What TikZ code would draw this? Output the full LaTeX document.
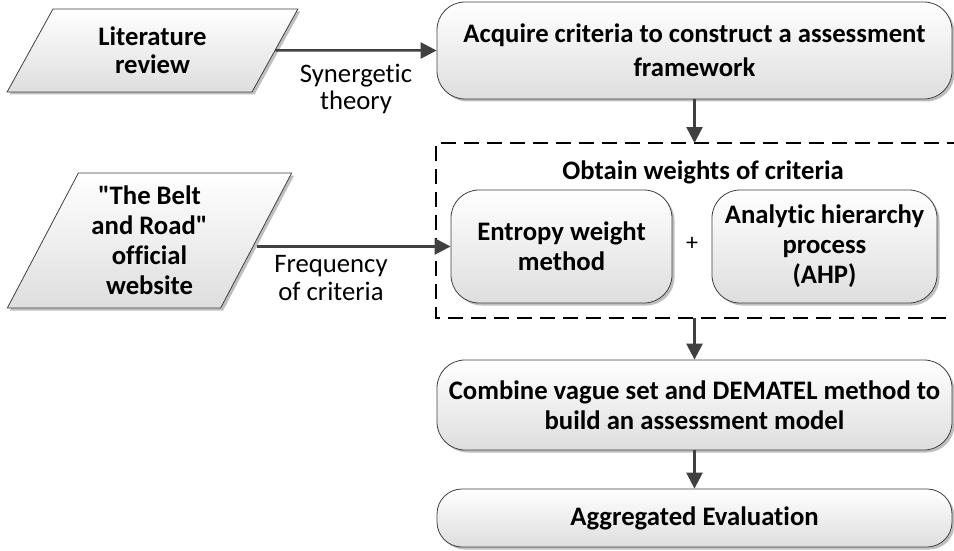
\documentclass[tikz,border=0pt]{standalone}
\usepackage{fontspec}
\setmainfont{Carlito}[Ligatures={NoCommon,TeXOff}]
\usetikzlibrary{shapes.geometric,shadows,arrows.meta}
\begin{document}
\begin{tikzpicture}[x=1pt,y=-1pt,
  shade/.style={top color=white, bottom color=black!13,
    drop shadow={shadow xshift=2.5pt,shadow yshift=-2.5pt,fill=black!25,opacity=1}},
  box/.style={shade, draw=black!75, line width=0.8pt, rounded corners=28pt,
    font=\bfseries\fontsize{26.7}{30}\selectfont, align=center, inner sep=0pt},
  para/.style={shade, draw=black!75, line width=0.8pt, trapezium, trapezium left angle=62,
    trapezium right angle=118, trapezium stretches=true,
    font=\bfseries\fontsize{26.7}{30}\selectfont, align=center, inner sep=0pt},
  conn/.style={draw=black!75, line width=2.5pt, -{Triangle[length=16pt,width=16pt]}},
  lbl/.style={font=\fontsize{26.7}{28}\selectfont, align=center, inner sep=0pt},
  grp/.style={draw=black, line width=2.4pt, dash pattern=on 15pt off 8pt}]
\useasboundingbox (0,0) rectangle (954,551);

\node[para, minimum width=291pt, minimum height=83pt, font=\bfseries\fontsize{26.7}{28}\selectfont] (lit) at (152.5,50.5) {Literature\\review};
\node[para, minimum width=285pt, minimum height=135pt] (belt) at (149.5,240.5) {"The Belt\\and Road"\\official\\website};

\node[box, minimum width=515pt, minimum height=97pt, font=\bfseries\fontsize{26.7}{34}\selectfont] (acq) at (694.5,50.5) {Acquire criteria to construct a assessment\\framework};

\coordinate (gtl) at (436,143);
\coordinate (gbl) at (436,318);
\coordinate (gtr) at (962,143);
\coordinate (gbr) at (962,318);
\draw[grp] (gtr) -- (gtl) -- (gbl) -- (gbr);
\node[font=\bfseries\fontsize{26.7}{28}\selectfont, inner sep=0pt] (title) at (703,172) {Obtain weights of criteria};

\node[box, minimum width=221pt, minimum height=113pt] (ent) at (561.5,246.5) {Entropy weight\\method};
\node[box, minimum width=225pt, minimum height=113pt] (ahp) at (824.5,246.5) {Analytic hierarchy\\process\\(AHP)};
\node[font=\fontsize{24}{26}\selectfont, inner sep=0pt] (plus) at (692,244) {+};

\node[box, minimum width=515pt, minimum height=90pt] (comb) at (694.5,405) {Combine vague set and DEMATEL method to\\build an assessment model};
\node[box, rounded corners=25pt, minimum width=515pt, minimum height=58pt] (agg) at (694.5,518) {Aggregated Evaluation};

\draw[conn] (lit.east) -- (acq.west);
\node[lbl, font=\fontsize{26.7}{27}\selectfont] (syn) at (356,89) {Synergetic\\theory};
\draw[conn] (belt.east |- ent.west) -- (ent.west);
\node[lbl] (freq) at (331,278) {Frequency\\of criteria};

\draw[conn] (acq.south) -- (acq.south |- gtl);
\draw[conn] (acq.south |- gbl) -- (comb.north);
\draw[conn] (comb.south) -- (agg.north);
\end{tikzpicture}
\end{document}
